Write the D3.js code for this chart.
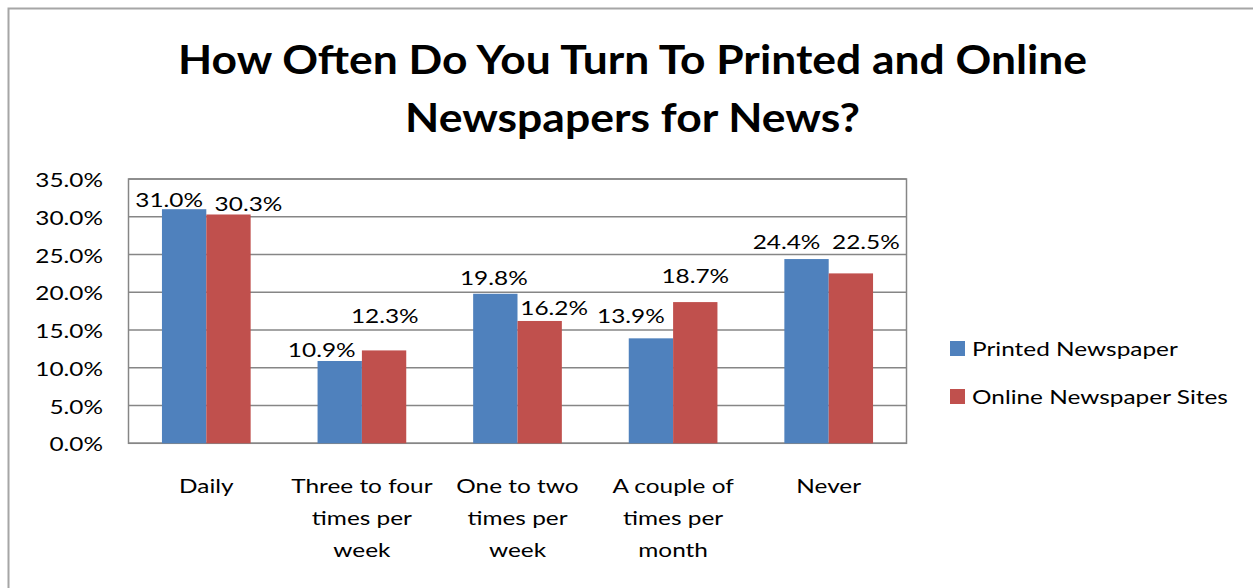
<!DOCTYPE html>
<html>
<head>
<meta charset="utf-8">
<script src="https://cdn.jsdelivr.net/npm/d3@7"></script>
<style>
  html, body { margin: 0; padding: 0; background: #fff; }
  svg { display: block; }
  text { font-family: Lato, "Noto Sans", sans-serif; fill: #000; }
</style>
</head>
<body>
<svg id="chart" width="1253" height="588"></svg>
<script>
// ---- data ----
const categories = [
  ["Daily"],
  ["Three to four", "times per", "week"],
  ["One to two", "times per", "week"],
  ["A couple of", "times per", "month"],
  ["Never"]
];
const seriesNames = ["Printed Newspaper", "Online Newspaper Sites"];
const printedValues = [31.0, 10.9, 19.8, 13.9, 24.4];
const onlineValues  = [30.3, 12.3, 16.2, 18.7, 22.5];
const yTicks = [0, 5, 10, 15, 20, 25, 30, 35];
const titleLines = ["How Often Do You Turn To Printed and Online", "Newspapers for News?"];

// ---- layout / style ----
const W = 1253, H = 588;
const plot = { left: 128.5, right: 906.5, top: 179, bottom: 443.3 };
const colors = ["#4F81BD", "#C0504D"];
const gridColor = "#868686";
// per-bar label offsets from the bar's top centre, in px: [dx, dy]
const labelNudge = [
  [[-15, -2.6], [-18, -4.3], [-1.5, -9], [-20, -15.6], [-20, -10]],
  [[20, -3], [0.7, -27.7], [14.5, -6], [0, -19], [15, -24]]
];

const svg = d3.select("#chart");
svg.append("rect").attr("width", W).attr("height", H).attr("fill", "#fff");

// chart-area frame
svg.append("path")
  .attr("d", `M8.5,${H} V8.5 H${W}`)
  .attr("fill", "none").attr("stroke", "#a6a6a6").attr("stroke-width", 2);

const x0 = d3.scaleBand().domain(d3.range(categories.length))
  .range([plot.left, plot.right]).paddingInner(0.43).paddingOuter(0.215);
const x1 = d3.scaleBand().domain([0, 1]).range([0, x0.bandwidth()]);
const y = d3.scaleLinear().domain([0, 35]).range([plot.bottom, plot.top]);

// regular text is stretched horizontally so the widest legend entry spans 256px
const probe = svg.append("text").attr("font-size", 20).text(seriesNames[1]);
const textSx = 256 / probe.node().getComputedTextLength();
probe.remove();

// gridlines
svg.append("g").selectAll("line").data(yTicks).join("line")
  .attr("x1", plot.left).attr("x2", plot.right)
  .attr("y1", d => y(d)).attr("y2", d => y(d))
  .attr("stroke", gridColor).attr("stroke-width", 1.5);
svg.append("rect")
  .attr("x", plot.left).attr("y", plot.top)
  .attr("width", plot.right - plot.left).attr("height", plot.bottom - plot.top)
  .attr("fill", "none").attr("stroke", gridColor).attr("stroke-width", 1.5);

// y-axis labels
const fmt = d => d.toFixed(1) + "%";
svg.append("g").selectAll("text").data(yTicks).join("text")
  .attr("font-size", 20).attr("text-anchor", "end")
  .attr("transform", d => `translate(103,${y(d) + 8}) scale(${textSx},1)`)
  .text(fmt);

// bars
const series = [printedValues, onlineValues];
const barG = svg.append("g");
series.forEach((vals, s) => {
  barG.selectAll(null).data(vals).join("rect")
    .attr("x", (d, i) => x0(i) + x1(s))
    .attr("y", d => y(d))
    .attr("width", x1.bandwidth())
    .attr("height", d => y(0) - y(d))
    .attr("fill", colors[s]);
});

// value labels
series.forEach((vals, s) => {
  svg.append("g").selectAll("text").data(vals).join("text")
    .attr("font-size", 20).attr("text-anchor", "middle")
    .attr("transform", (d, i) => {
      const cx = x0(i) + x1(s) + x1.bandwidth() / 2 + labelNudge[s][i][0];
      const cy = y(d) + labelNudge[s][i][1];
      return `translate(${cx},${cy}) scale(${textSx},1)`;
    })
    .text(fmt);
});

// category labels
const catG = svg.append("g");
categories.forEach((lines, i) => {
  const cx = x0(i) + x0.bandwidth() / 2;
  catG.selectAll(null).data(lines).join("text")
    .attr("font-size", 20).attr("text-anchor", "middle")
    .attr("transform", (d, j) => `translate(${cx},${493 + j * 32}) scale(${textSx},1)`)
    .text(d => d);
});

// legend
const legend = svg.append("g");
seriesNames.forEach((name, s) => {
  const ly = 341 + s * 48;
  legend.append("rect").attr("x", 950).attr("y", ly).attr("width", 15).attr("height", 15).attr("fill", colors[s]);
  legend.append("text").attr("font-size", 20)
    .attr("transform", `translate(972,${ly + 15}) scale(${textSx},1)`)
    .text(name);
});

// title
const titleWidths = [909, 455];
const titleBase = [74, 132];
titleLines.forEach((line, k) => {
  const t = svg.append("text")
    .attr("font-size", 41).attr("font-weight", 700).attr("text-anchor", "middle")
    .text(line);
  const sx = titleWidths[k] / t.node().getComputedTextLength();
  t.attr("transform", `translate(632.5,${titleBase[k]}) scale(${sx},1)`);
});
</script>
</body>
</html>
